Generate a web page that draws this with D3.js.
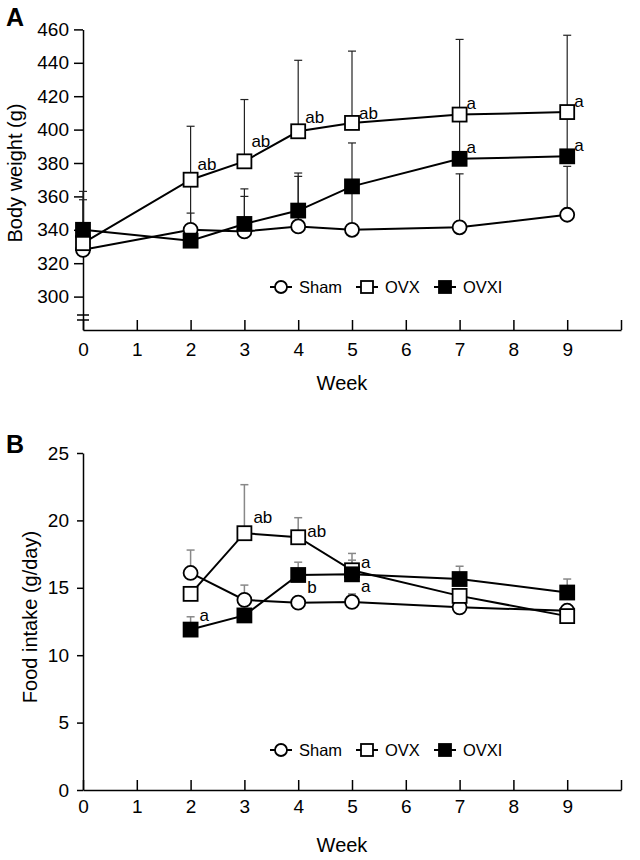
<!DOCTYPE html>
<html>
<head>
<meta charset="utf-8">
<script src="https://cdn.jsdelivr.net/npm/d3@7"></script>
<style>
body { margin: 0; background: #fff; }
text { font-family: "Liberation Sans", Arial, sans-serif; fill: #000; }
</style>
</head>
<body>
<svg id="chart" width="640" height="860"></svg>
<script>
// panel A: body weight
var weeks_A = [0, 2, 3, 4, 5, 7, 9];
var sham_A = [328, 340, 339, 342, 340, 341.5, 349];
var shamSd_A = [30, 10, 21, 30, 25, 32, 29];
var ovx_A = [332, 370, 381, 399, 404, 409, 410.5];
var ovxSd_A = [31, 32, 37, 42.5, 43, 45, 46];
var ovxi_A = [340, 333.5, 343.5, 351.5, 366, 382.5, 384];
var ovxiSd_A = [4, 37, 21, 22.5, 26, 28, 27];
var yTicks_A = [300, 320, 340, 360, 380, 400, 420, 440, 460];
var letters_A = ["ab", "ab", "ab", "ab", "a", "a", "a", "a"];
var letterWeek_A = [2, 3, 4, 5, 7, 9, 7, 9];
var letterValue_A = [375.8, 389.6, 404, 406.3, 412.3, 413.5, 386, 387.2];

// panel B: food intake
var weeks_B = [2, 3, 4, 5, 7, 9];
var sham_B = [16.1, 14.1, 13.9, 13.95, 13.55, 13.3];
var shamSd_B = [1.7, 1.1, 0.3, 0.6, 0.3, 0.3];
var ovx_B = [14.55, 19.05, 18.75, 16.3, 14.4, 12.9];
var ovxSd_B = [0.3, 3.6, 1.45, 1.25, 0.4, 0.3];
var ovxi_B = [11.9, 12.95, 15.95, 16.0, 15.65, 14.65];
var ovxiSd_B = [0.95, 0.5, 0.95, 1.05, 0.95, 1.0];
var yTicks_B = [0, 5, 10, 15, 20, 25];
var letters_B = ["ab", "ab", "a", "a", "b", "a"];
var letterWeek_B = [3, 4, 5, 5, 4, 2];
var letterValue_B = [19.8, 18.77, 16.47, 14.69, 14.61, 12.54];

var xTicks = [0, 1, 2, 3, 4, 5, 6, 7, 8, 9, 10];
var seriesNames = ["Sham", "OVX", "OVXI"];
var seriesShapes = ["circle", "open", "filled"];

var svg = d3.select("#chart");

function drawMarker(g, shape, cx, cy, size) {
  if (shape == "circle") {
    g.append("circle").attr("cx", cx).attr("cy", cy).attr("r", size / 2)
      .attr("fill", "#fff").attr("stroke", "#000").attr("stroke-width", 1.8);
  } else {
    g.append("rect").attr("x", cx - size / 2).attr("y", cy - size / 2)
      .attr("width", size).attr("height", size)
      .attr("fill", shape == "filled" ? "#000" : "#fff")
      .attr("stroke", "#000").attr("stroke-width", 1.8);
  }
}

function drawPanel(p) {
  var g = svg.append("g");
  var x = p.x, y = p.y;

  // y axis
  var ya = g.append("g").attr("transform", "translate(" + x(0) + ",0)")
    .call(d3.axisLeft(y).tickValues(p.yTicks).tickSizeInner(p.yTickSize).tickSizeOuter(0).tickPadding(p.yPad));
  ya.selectAll("path,line").attr("stroke", "#000").attr("stroke-width", 1.5);
  ya.selectAll("text").style("font-size", "19px").style("font-family", "Liberation Sans, Arial, sans-serif");

  // x axis, ticks pointing up
  var xa = g.append("g").attr("transform", "translate(0," + y.range()[0] + ")")
    .call(d3.axisBottom(x).tickValues(xTicks).tickSizeInner(-10).tickSizeOuter(0).tickPadding(p.xPad)
      .tickFormat(function(d) { return d == 10 ? "" : d; }));
  xa.selectAll("path,line").attr("stroke", "#000").attr("stroke-width", 1.5);
  xa.selectAll("text").style("font-size", "19px").style("font-family", "Liberation Sans, Arial, sans-serif");

  if (p.axisBreak) {
    [315, 320].forEach(function(by) {
      g.append("line").attr("x1", x(0) - 6).attr("x2", x(0) + 6)
        .attr("y1", by).attr("y2", by).attr("stroke", "#000").attr("stroke-width", 1.5);
    });
  }

  g.append("text").text("Week").attr("x", (x(0) + x(10)) / 2 - 10).attr("y", p.weekY)
    .attr("text-anchor", "middle").style("font-size", "20px");
  g.append("text").text(p.yTitle)
    .attr("transform", "translate(" + p.yTitleX + "," + p.yTitleY + ") rotate(-90)")
    .attr("text-anchor", "middle").style("font-size", "20px");
  g.append("text").text(p.letter).attr("x", 6).attr("y", p.letterY)
    .style("font-size", "25px").style("font-weight", "bold");

  // error bars (upper only)
  p.series.forEach(function(s) {
    s.values.forEach(function(v, i) {
      var cx = x(p.weeks[i]), top = y(v + s.sd[i]);
      g.append("line").attr("x1", cx).attr("x2", cx).attr("y1", y(v)).attr("y2", top)
        .attr("stroke", p.errColor).attr("stroke-width", p.errWidth);
      g.append("line").attr("x1", cx - 4).attr("x2", cx + 4).attr("y1", top).attr("y2", top)
        .attr("stroke", p.errColor).attr("stroke-width", p.errWidth);
    });
  });

  // lines
  var line = d3.line().x(function(d) { return x(d[0]); }).y(function(d) { return y(d[1]); });
  p.series.forEach(function(s) {
    g.append("path").datum(d3.zip(p.weeks, s.values)).attr("d", line)
      .attr("fill", "none").attr("stroke", "#000").attr("stroke-width", 2);
  });

  // markers
  p.series.forEach(function(s, k) {
    s.values.forEach(function(v, i) {
      drawMarker(g, seriesShapes[k], x(p.weeks[i]), y(v), 14);
    });
  });

  // significance letters
  p.letters.forEach(function(t, i) {
    g.append("text").text(t).attr("x", x(p.letterWeek[i]) + p.letterDx)
      .attr("y", y(p.letterValue[i])).style("font-size", "17px");
  });

  // legend
  var legX = [281, 367, 445];
  seriesNames.forEach(function(name, k) {
    var lx = legX[k], ly = p.legendY;
    g.append("line").attr("x1", lx - 11).attr("x2", lx + 11).attr("y1", ly).attr("y2", ly)
      .attr("stroke", "#000").attr("stroke-width", 2);
    drawMarker(g, seriesShapes[k], lx, ly, 12);
    g.append("text").text(name).attr("x", lx + 18).attr("y", ly + 6).style("font-size", "16.5px");
  });
}

var xScale = d3.scaleLinear().domain([0, 10]).range([83, 621]);

drawPanel({
  x: xScale,
  y: d3.scaleLinear().domain([280, 460]).range([330, 29.4]),
  weeks: weeks_A,
  series: [
    { values: sham_A, sd: shamSd_A },
    { values: ovx_A, sd: ovxSd_A },
    { values: ovxi_A, sd: ovxiSd_A }
  ],
  yTicks: yTicks_A, yTickSize: 9, yPad: 5, xPad: 13,
  axisBreak: true,
  weekY: 390, yTitle: "Body weight (g)", yTitleX: 22, yTitleY: 173,
  letter: "A", letterY: 26,
  errColor: "#222", errWidth: 1.2,
  letters: letters_A, letterWeek: letterWeek_A, letterValue: letterValue_A, letterDx: 7,
  legendY: 287
});

drawPanel({
  x: xScale,
  y: d3.scaleLinear().domain([0, 25]).range([790, 453]),
  weeks: weeks_B,
  series: [
    { values: sham_B, sd: shamSd_B },
    { values: ovx_B, sd: ovxSd_B },
    { values: ovxi_B, sd: ovxiSd_B }
  ],
  yTicks: yTicks_B, yTickSize: 6, yPad: 8, xPad: 10,
  axisBreak: false,
  weekY: 852, yTitle: "Food intake (g/day)", yTitleX: 37, yTitleY: 617,
  letter: "B", letterY: 453,
  errColor: "#888", errWidth: 1.5,
  letters: letters_B, letterWeek: letterWeek_B, letterValue: letterValue_B, letterDx: 9,
  legendY: 750
});
</script>
</body>
</html>
